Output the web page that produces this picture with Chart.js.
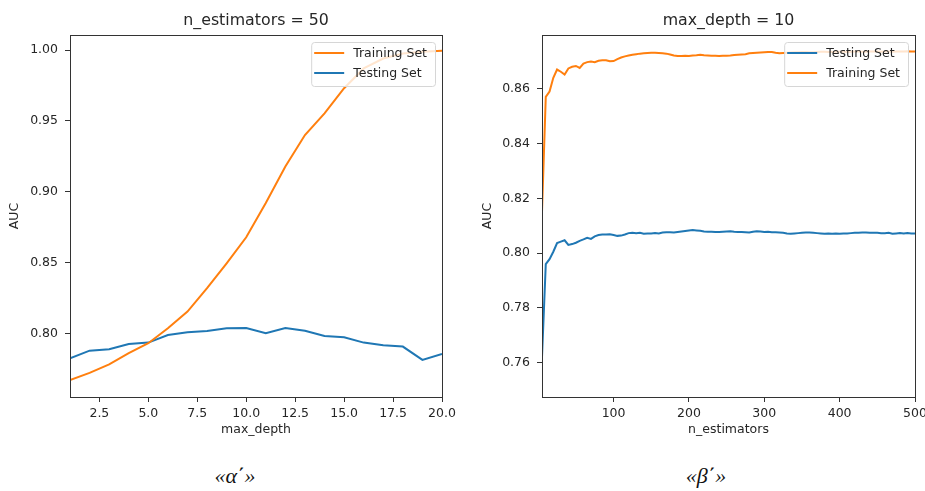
<!DOCTYPE html>
<html>
<head>
<meta charset="utf-8">
<script src="https://cdn.jsdelivr.net/npm/chart.js@4/dist/chart.umd.min.js"></script>
<style>
  html, body { margin: 0; padding: 0; background: #fff; }
  #page { position: relative; width: 925px; height: 491px; overflow: hidden; }
  canvas { position: absolute; top: 0; }
  .caption {
    position: absolute; top: 463px; width: 80px; text-align: center;
    font: italic 22px "Liberation Serif", serif; color: #111;
  }
</style>
</head>
<body>
<div id="page">
  <canvas id="depth-chart" width="460" height="440" style="left:0"></canvas>
  <canvas id="trees-chart" width="465" height="440" style="left:460px"></canvas>
  <div class="caption" style="left:195px">«α΄»</div>
  <div class="caption" style="left:666px">«β΄»</div>
</div>
<script>
const TRAIN_COLOR = '#ff7f0e';
const TEST_COLOR = '#1f77b4';
const FONT = '"DejaVu Sans", sans-serif';

// left panel: n_estimators = 50
const maxDepths = [1, 2, 3, 4, 5, 6, 7, 8, 9, 10, 11, 12, 13, 14, 15, 16, 17, 18, 19, 20];
const depthTrainAuc = [0.767, 0.772, 0.778, 0.786, 0.793, 0.8035, 0.8153, 0.8318, 0.8494, 0.8678,
  0.892, 0.9177, 0.940, 0.9553, 0.973, 0.987, 0.994, 0.9976, 0.9988, 0.9995];
const depthTestAuc = [0.7823, 0.7877, 0.7887, 0.7924, 0.7934, 0.7988, 0.8007, 0.8016, 0.8035, 0.8037,
  0.800, 0.8037, 0.8018, 0.7981, 0.7972, 0.7934, 0.7915, 0.7906, 0.7812, 0.7854];
const depthXTicks = [2.5, 5, 7.5, 10, 12.5, 15, 17.5, 20];
const depthYTicks = [0.80, 0.85, 0.90, 0.95, 1.00];

// right panel: max_depth = 10
const nEstimators = [5, 10, 15, 20, 25, 30, 35, 40, 45, 50, 55, 60, 65, 70, 75, 80, 85, 90, 95, 100,
  105, 110, 115, 120, 125, 130, 135, 140, 145, 150, 155, 160, 165, 170, 175, 180, 185, 190, 195, 200,
  205, 210, 215, 220, 225, 230, 235, 240, 245, 250, 255, 260, 265, 270, 275, 280, 285, 290, 295, 300,
  305, 310, 315, 320, 325, 330, 335, 340, 345, 350, 355, 360, 365, 370, 375, 380, 385, 390, 395, 400,
  405, 410, 415, 420, 425, 430, 435, 440, 445, 450, 455, 460, 465, 470, 475, 480, 485, 490, 495, 500];
const treesTestAuc = [0.762, 0.7960, 0.7978, 0.8005, 0.8037, 0.8042, 0.8047, 0.8030, 0.8033, 0.8038,
  0.8045, 0.8050, 0.8056, 0.8052, 0.8061, 0.8066, 0.8068, 0.8068, 0.8069, 0.8066,
  0.8063, 0.8064, 0.8068, 0.8073, 0.8074, 0.8073, 0.8074, 0.8071, 0.8072, 0.8072,
  0.8073, 0.8072, 0.8075, 0.8076, 0.8076, 0.8075, 0.8077, 0.8079, 0.8081, 0.8083,
  0.8084, 0.8083, 0.8082, 0.8079, 0.8078, 0.8078, 0.8077, 0.8077, 0.8078, 0.8079,
  0.8080, 0.8078, 0.8077, 0.8077, 0.8076, 0.8075, 0.8078, 0.8080, 0.8079, 0.8077,
  0.8078, 0.8076, 0.8076, 0.8075, 0.8074, 0.8072, 0.8071, 0.8072, 0.8073, 0.8074,
  0.8075, 0.8075, 0.8074, 0.8073, 0.8072, 0.8071, 0.8072, 0.8071, 0.8072, 0.8071,
  0.8072, 0.8072, 0.8073, 0.8074, 0.8074, 0.8075, 0.8075, 0.8074, 0.8074, 0.8074,
  0.8073, 0.8073, 0.8074, 0.8071, 0.8072, 0.8073, 0.8072, 0.8073, 0.8072, 0.8072];
const treesTrainAuc = [0.815, 0.857, 0.859, 0.864, 0.867, 0.8662, 0.8652, 0.8674, 0.8680, 0.8683,
  0.8676, 0.8692, 0.8697, 0.8699, 0.8697, 0.8702, 0.8704, 0.8704, 0.8700, 0.8701,
  0.8708, 0.8714, 0.8718, 0.8721, 0.8724, 0.8726, 0.8728, 0.8729, 0.8730, 0.8731,
  0.8731, 0.8730, 0.8729, 0.8728, 0.8725, 0.8721, 0.8719, 0.8719, 0.8720, 0.8719,
  0.8721, 0.8722, 0.8724, 0.8722, 0.8721, 0.8720, 0.8720, 0.8719, 0.8720, 0.8720,
  0.8721, 0.8723, 0.8724, 0.8725, 0.8726, 0.8729, 0.8730, 0.8731, 0.8732, 0.8733,
  0.8734, 0.8734, 0.8731, 0.8729, 0.8730, 0.8731, 0.8732, 0.8733, 0.8733, 0.8734,
  0.8734, 0.8733, 0.8733, 0.8734, 0.8735, 0.8735, 0.8734, 0.8734, 0.8735, 0.8735,
  0.8735, 0.8734, 0.8735, 0.8736, 0.8736, 0.8735, 0.8735, 0.8736, 0.8736, 0.8736,
  0.8735, 0.8736, 0.8736, 0.8735, 0.8736, 0.8736, 0.8736, 0.8737, 0.8736, 0.8736];
const treesXTicks = [100, 200, 300, 400, 500];
const treesYTicks = [0.76, 0.78, 0.80, 0.82, 0.84, 0.86];

function toPoints(xs, ys) {
  return xs.map((x, i) => ({ x, y: ys[i] }));
}

function lineDataset(label, color, xs, ys) {
  return {
    label,
    data: toPoints(xs, ys),
    borderColor: color,
    backgroundColor: color,
    borderWidth: 2,
    pointRadius: 0,
    tension: 0
  };
}

// spines, title, axis labels and a matplotlib-like legend
const framePlugin = {
  id: 'frame',
  afterDatasetsDraw(chart, args, opts) {
    const { ctx, chartArea: a } = chart;
    ctx.save();
    ctx.strokeStyle = '#333';
    ctx.lineWidth = 1;
    ctx.strokeRect(Math.round(a.left) + 0.5, Math.round(a.top) + 0.5,
      Math.round(a.right - a.left), Math.round(a.bottom - a.top));

    ctx.fillStyle = '#262626';
    ctx.textAlign = 'center';
    ctx.textBaseline = 'middle';
    ctx.font = `15.8px ${FONT}`;
    ctx.fillText(opts.title, (a.left + a.right) / 2, 21);
    ctx.font = `12.5px ${FONT}`;
    ctx.fillText(opts.xLabel, (a.left + a.right) / 2, 430);
    ctx.translate(opts.yLabelX, (a.top + a.bottom) / 2);
    ctx.rotate(-Math.PI / 2);
    ctx.fillText('AUC', 0, 0);
    ctx.restore();

    // legend
    ctx.save();
    ctx.font = `12.5px ${FONT}`;
    const labels = chart.data.datasets.map((d) => d.label);
    const textW = Math.max(...labels.map((l) => ctx.measureText(l).width));
    const w = textW + 50;
    const h = 44;
    const x0 = a.right - 7 - w;
    const y0 = a.top + 7;
    ctx.beginPath();
    ctx.roundRect(x0 + 0.5, y0 + 0.5, w, h, 3);
    ctx.fillStyle = 'rgba(255,255,255,0.8)';
    ctx.fill();
    ctx.strokeStyle = '#d6d6d6';
    ctx.lineWidth = 1;
    ctx.stroke();
    chart.data.datasets.forEach((d, i) => {
      const y = y0 + 11 + i * 20;
      ctx.strokeStyle = d.borderColor;
      ctx.lineWidth = 2;
      ctx.beginPath();
      ctx.moveTo(x0 + 3, y);
      ctx.lineTo(x0 + 33, y);
      ctx.stroke();
      ctx.fillStyle = '#262626';
      ctx.textAlign = 'left';
      ctx.textBaseline = 'middle';
      ctx.fillText(d.label, x0 + 42, y + 0.5);
    });
    ctx.restore();
  }
};

function buildChart(canvasId, cfg) {
  return new Chart(document.getElementById(canvasId), {
    type: 'line',
    data: { datasets: cfg.datasets },
    plugins: [framePlugin],
    options: {
      responsive: false,
      animation: false,
      devicePixelRatio: 1,
      layout: { padding: { top: 35, right: cfg.padRight, left: 0, bottom: 0 } },
      plugins: {
        legend: { display: false },
        tooltip: { enabled: false },
        frame: { title: cfg.title, xLabel: cfg.xLabel, yLabelX: cfg.yLabelX }
      },
      scales: {
        x: {
          type: 'linear',
          min: cfg.xMin,
          max: cfg.xMax,
          afterBuildTicks: (s) => { s.ticks = cfg.xTicks.map((value) => ({ value })); },
          afterFit: (s) => {
            s.height = 43;
            // let the last tick label overhang like matplotlib does
            s.paddingLeft = 0;
            s.paddingRight = 0;
          },
          border: { display: false },
          grid: { drawOnChartArea: false, tickLength: 5, tickColor: '#333', tickWidth: 1 },
          ticks: {
            padding: 4,
            maxRotation: 0,
            autoSkip: false,
            color: '#262626',
            font: { family: FONT, size: 12.5 },
            callback: cfg.xFormat
          }
        },
        y: {
          type: 'linear',
          min: cfg.yMin,
          max: cfg.yMax,
          afterBuildTicks: (s) => { s.ticks = cfg.yTicks.map((value) => ({ value })); },
          afterFit: (s) => {
            s.width = cfg.yWidth;
            s.paddingTop = 0;
            s.paddingBottom = 0;
          },
          border: { display: false },
          grid: { drawOnChartArea: false, tickLength: 5, tickColor: '#333', tickWidth: 1 },
          ticks: {
            padding: 7,
            autoSkip: false,
            color: '#262626',
            font: { family: FONT, size: 12.5 },
            callback: (v) => Number(v).toFixed(2)
          }
        }
      }
    }
  });
}

buildChart('depth-chart', {
  title: 'n_estimators = 50',
  xLabel: 'max_depth',
  yLabelX: 15,
  padRight: 18,
  yWidth: 70,
  xMin: 1, xMax: 20, yMin: 0.755, yMax: 1.0106,
  xTicks: depthXTicks, yTicks: depthYTicks,
  xFormat: (v) => Number(v).toFixed(1),
  datasets: [
    lineDataset('Training Set', TRAIN_COLOR, maxDepths, depthTrainAuc),
    lineDataset('Testing Set', TEST_COLOR, maxDepths, depthTestAuc)
  ]
});

buildChart('trees-chart', {
  title: 'max_depth = 10',
  xLabel: 'n_estimators',
  yLabelX: 28,
  padRight: 10,
  yWidth: 82,
  xMin: 5, xMax: 500, yMin: 0.7475, yMax: 0.8796,
  xTicks: treesXTicks, yTicks: treesYTicks,
  xFormat: (v) => String(v),
  datasets: [
    lineDataset('Testing Set', TEST_COLOR, nEstimators, treesTestAuc),
    lineDataset('Training Set', TRAIN_COLOR, nEstimators, treesTrainAuc)
  ]
});
</script>
</body>
</html>
